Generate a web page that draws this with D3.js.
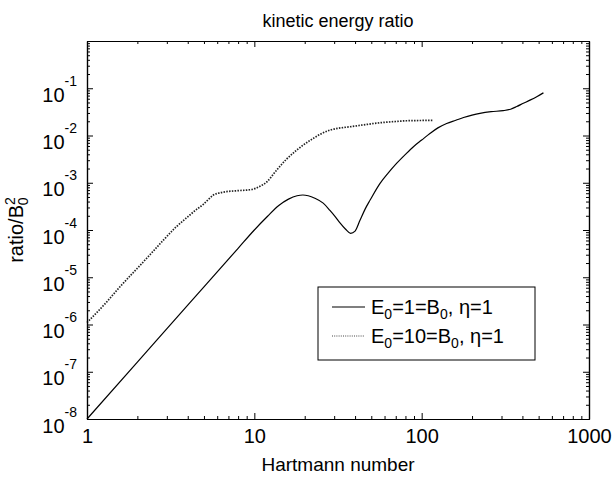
<!DOCTYPE html>
<html>
<head>
<meta charset="utf-8">
<script src="https://cdn.jsdelivr.net/npm/d3@7"></script>
<style>
  body { margin: 0; background: #fff; }
  svg { font-family: "Liberation Sans", Arial, sans-serif; }
</style>
</head>
<body>
<svg id="chart" width="612" height="481"></svg>
<script>
/* values */
const xTickValues = [1, 10, 100, 1000];
const yTickExps = [-8, -7, -6, -5, -4, -3, -2, -1];

/* E0=1=B0, eta=1 (solid) */
const solidX = [1, 2, 4, 8, 10, 12, 14, 16, 18, 19.5, 21, 23, 25.8, 28.3, 30.5, 32.6, 35, 37.6, 40, 42.8, 46, 49.2, 56.4, 63, 71, 80, 89.3, 100, 112, 125, 141, 160, 178, 200, 223, 260, 307, 340, 370, 405, 444, 490, 534];
const solidY = [1e-8, 1.6e-7, 2.56e-6, 4.1e-5, 1e-4, 1.95e-4, 3.3e-4, 4.5e-4, 5.3e-4, 5.5e-4, 5.3e-4, 4.7e-4, 3.7e-4, 2.6e-4, 1.9e-4, 1.4e-4, 1.05e-4, 8.5e-5, 9.5e-5, 1.6e-4, 2.8e-4, 4.3e-4, 9.7e-4, 1.6e-3, 2.6e-3, 4e-3, 5.8e-3, 8e-3, 1.1e-2, 1.45e-2, 1.8e-2, 2.1e-2, 2.4e-2, 2.7e-2, 2.95e-2, 3.2e-2, 3.35e-2, 3.6e-2, 4.1e-2, 4.8e-2, 5.6e-2, 6.7e-2, 8e-2];

/* E0=10=B0, eta=1 (dotted) */
const dotX = [1, 1.3, 1.575, 2, 2.4, 2.86, 3.4, 4, 4.5, 4.96, 5.3, 5.69, 6.2, 6.83, 8, 9.65, 10.8, 11.9, 13.5, 15.5, 17.9, 20, 22.5, 25, 28.3, 32, 37.3, 45, 56.4, 70, 81.2, 100, 117];
const dotY = [1.1e-6, 2.9e-6, 6.3e-6, 1.55e-5, 3.1e-5, 6.1e-5, 1.15e-4, 1.9e-4, 2.7e-4, 3.5e-4, 4.4e-4, 5.5e-4, 6.1e-4, 6.5e-4, 6.8e-4, 7.2e-4, 8.4e-4, 1.05e-3, 1.8e-3, 3.1e-3, 4.9e-3, 6.6e-3, 8.7e-3, 1.08e-2, 1.3e-2, 1.43e-2, 1.53e-2, 1.68e-2, 1.86e-2, 1.98e-2, 2.05e-2, 2.08e-2, 2.1e-2];

const pL = 87, pR = 589, pT = 41, pB = 419;

const svg = d3.select('#chart');

let x = d3.scaleLog().domain([1, 1000]).range([pL, pR]);
let y = d3.scaleLog().domain([1e-8, 1]).range([pB, pT]);

const isMajor = v => Math.abs(Math.log10(v) - Math.round(Math.log10(v))) < 1e-9;
const xMinor = x.ticks().filter(v => !isMajor(v));
const yMinor = y.ticks().filter(v => !isMajor(v));
const yMajor = yTickExps.map(e => Math.pow(10, e));

/* data lines */
const line = d3.line().x(d => x(d[0])).y(d => y(d[1])).curve(d3.curveMonotoneX);

svg.append('path')
    .datum(dotX.map((v, i) => [v, dotY[i]]))
    .attr('d', line)
    .attr('fill', 'none')
    .attr('stroke', '#222')
    .attr('stroke-width', 1.7)
    .attr('stroke-dasharray', '1.5,1.3');

svg.append('path')
    .datum(solidX.map((v, i) => [v, solidY[i]]))
    .attr('d', line)
    .attr('fill', 'none')
    .attr('stroke', '#000')
    .attr('stroke-width', 1.2);

/* axes: major and minor ticks inward on all four sides */
function axisGroup(gen, tx, ty) {
    return svg.append('g')
        .attr('transform', `translate(${tx}, ${ty})`)
        .call(gen)
        .call(g => g.select('.domain').attr('stroke', '#000').attr('stroke-width', 1.2))
        .call(g => g.selectAll('.tick line').attr('stroke', '#000'));
}

axisGroup(d3.axisBottom(x).tickValues(xMinor).tickSize(-3).tickFormat('').tickSizeOuter(0), 0, pB);
axisGroup(d3.axisTop(x).tickValues(xMinor).tickSize(-3).tickFormat('').tickSizeOuter(0), 0, pT);
axisGroup(d3.axisLeft(y).tickValues(yMinor).tickSize(-3).tickFormat('').tickSizeOuter(0), pL, 0);
axisGroup(d3.axisRight(y).tickValues(yMinor).tickSize(-3).tickFormat('').tickSizeOuter(0), pR, 0);

axisGroup(d3.axisTop(x).tickValues(xTickValues).tickSize(-6).tickFormat('').tickSizeOuter(0), 0, pT);
axisGroup(d3.axisRight(y).tickValues(yMajor).tickSize(-6).tickFormat('').tickSizeOuter(0), pR, 0);

let xAxis = axisGroup(d3.axisBottom(x).tickValues(xTickValues).tickSize(-6).tickPadding(10)
    .tickFormat(d3.format('d')).tickSizeOuter(0), 0, pB);
xAxis.selectAll('text')
    .attr('font-size', 20)
    .attr('fill', '#000')
    .attr('font-family', '"Liberation Sans", Arial, sans-serif');

let yAxis = axisGroup(d3.axisLeft(y).tickValues(yMajor).tickSize(-6).tickPadding(10).tickSizeOuter(0), pL, 0);
yAxis.selectAll('text')
    .attr('font-family', '"Liberation Sans", Arial, sans-serif')
    .attr('fill', '#000')
    .attr('dy', null)
    .each(function (d) {
        let t = d3.select(this);
        t.text(null);
        t.append('tspan').attr('font-size', 20).attr('dy', 13).text('10');
        t.append('tspan').attr('font-size', 14).attr('dy', -16).text(Math.round(Math.log10(d)));
    });

/* title and axis labels */
svg.append('text')
    .attr('x', (pL + pR) / 2).attr('y', 27)
    .attr('text-anchor', 'middle')
    .attr('font-size', 18)
    .text('kinetic energy ratio');

svg.append('text')
    .attr('x', (pL + pR) / 2).attr('y', 471)
    .attr('text-anchor', 'middle')
    .attr('font-size', 19)
    .text('Hartmann number');

let yLabel = svg.append('text')
    .attr('transform', `translate(23, ${(pT + pB) / 2}) rotate(-90)`)
    .attr('text-anchor', 'middle')
    .attr('font-size', 20);
yLabel.append('tspan').text('ratio/B');
yLabel.append('tspan').attr('font-size', 14).attr('dy', -8).text('2');
yLabel.append('tspan').attr('font-size', 14).attr('dy', 13).attr('dx', -8).text('0');

/* legend */
const legendItems = [
    { main: 'E', sub: '0', rest: '=1=B', sub2: '0', tail: ', \u03b7=1', dash: null },
    { main: 'E', sub: '0', rest: '=10=B', sub2: '0', tail: ', \u03b7=1', dash: '1,1.2' }
];
let legend = svg.append('g');
legend.append('rect')
    .attr('x', 318).attr('y', 287).attr('width', 217).attr('height', 73)
    .attr('fill', '#fff').attr('stroke', '#000').attr('stroke-width', 1);

legendItems.forEach((d, i) => {
    let cy = 307 + i * 29;
    legend.append('line')
        .attr('x1', 332).attr('x2', 365).attr('y1', cy).attr('y2', cy)
        .attr('stroke', d.dash ? '#444' : '#000')
        .attr('stroke-width', d.dash ? 1 : 1.2)
        .attr('stroke-dasharray', d.dash);
    let t = legend.append('text').attr('x', 371).attr('y', cy + 7).attr('font-size', 20);
    t.append('tspan').text(d.main);
    t.append('tspan').attr('font-size', 14).attr('dy', 5).text(d.sub);
    t.append('tspan').attr('dy', -5).text(d.rest);
    t.append('tspan').attr('font-size', 14).attr('dy', 5).text(d.sub2);
    t.append('tspan').attr('dy', -5).text(d.tail);
});
</script>
</body>
</html>
